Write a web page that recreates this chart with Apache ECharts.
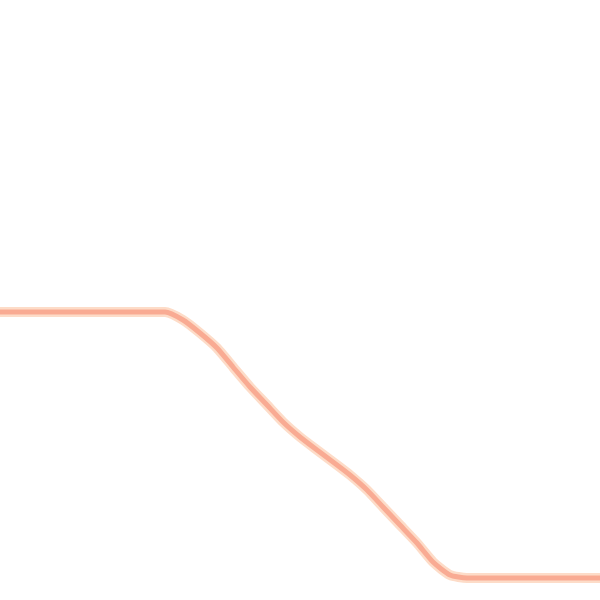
<!DOCTYPE html>
<html>
<head>
<meta charset="utf-8">
<script src="https://cdn.jsdelivr.net/npm/echarts@6/dist/echarts.min.js"></script>
<style>html,body{margin:0;padding:0;background:#fff;}#c{width:600px;height:600px;}</style>
</head>
<body>
<div id="c"></div>
<script>
const xValues = [0, 165, 183, 200, 217, 233, 250, 267, 283, 300, 317, 333, 350, 367, 383, 400, 417, 433, 450, 467, 600];
const yValues = [312, 312, 320, 333, 348, 367, 387, 405, 422, 437, 450, 462, 475, 490, 507, 525, 543, 562, 575, 578, 578];
const points = xValues.map((x, i) => [x, yValues[i]]);
const chart = echarts.init(document.getElementById('c'), null, {renderer: 'canvas'});
chart.setOption({
  animation: false,
  backgroundColor: '#ffffff',
  grid: {left: 0, right: 0, top: 0, bottom: 0},
  xAxis: {type: 'value', min: 0, max: 600, show: false},
  yAxis: {type: 'value', min: 0, max: 600, inverse: true, show: false},
  series: [
    {type: 'line', data: points, showSymbol: false, smooth: 0.2,
     lineStyle: {color: '#FDDCC8', width: 10}},
    {type: 'line', data: points, showSymbol: false, smooth: 0.2,
     lineStyle: {color: '#F9AB93', width: 5}}
  ]
});
</script>
</body>
</html>
